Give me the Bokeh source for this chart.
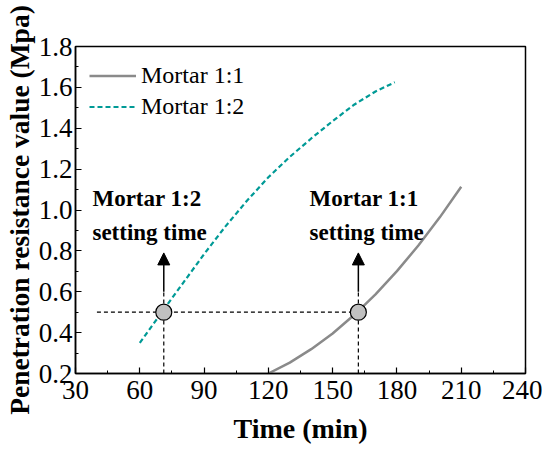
from bokeh.plotting import figure
from bokeh.models import Range1d, FixedTicker, NumeralTickFormatter, Arrow, NormalHead
from bokeh.core.properties import value
from bokeh.embed import file_html
from bokeh.resources import INLINE

# Data
time_11 = [120, 130, 140, 150, 160, 170, 180, 190, 200, 210]
res_11 = [0.200, 0.253, 0.319, 0.396, 0.486, 0.587, 0.701, 0.826, 0.964, 1.114]
time_12 = [60, 70, 80, 90, 100, 110, 120, 130, 140, 150, 160, 170, 179]
res_12 = [0.35, 0.496, 0.64, 0.784, 0.92, 1.045, 1.16, 1.26, 1.35, 1.435, 1.515, 1.58, 1.625]
setting_times = [71.2, 162.0]
setting_value = 0.5
x_ticks = [30, 60, 90, 120, 150, 180, 210, 240]
y_ticks = [0.2, 0.4, 0.6, 0.8, 1.0, 1.2, 1.4, 1.6, 1.8]

FONT = "Liberation Serif"

p = figure(width=542, height=447, output_backend="svg", toolbar_location=None,
           x_range=Range1d(30, 240), y_range=Range1d(0.2, 1.8),
           min_border_left=73, min_border_right=17, min_border_top=46, min_border_bottom=74)
p.grid.visible = False
p.outline_line_color = "black"
p.outline_line_width = 1.5
p.background_fill_color = "white"
p.border_fill_color = "white"

p.xaxis.ticker = FixedTicker(ticks=x_ticks, minor_ticks=[45, 75, 105, 135, 165, 195, 225])
p.yaxis.ticker = FixedTicker(ticks=y_ticks, minor_ticks=[0.3, 0.5, 0.7, 0.9, 1.1, 1.3, 1.5, 1.7])
p.yaxis.formatter = NumeralTickFormatter(format="0.0")
p.xaxis.axis_label = "Time (min)"
p.yaxis.axis_label = "Penetration resistance value (Mpa)"
for ax in (p.xaxis, p.yaxis):
    ax.axis_line_width = 1.5
    ax.axis_line_color = "black"
    ax.major_tick_in = 6
    ax.major_tick_out = 0
    ax.minor_tick_in = 3
    ax.minor_tick_out = 0
    ax.major_tick_line_color = "black"
    ax.minor_tick_line_color = "black"
    ax.major_tick_line_width = 1.2
    ax.major_label_text_font = FONT
    ax.major_label_text_color = "black"
    ax.axis_label_text_font = FONT
    ax.axis_label_text_font_style = "bold"
    ax.axis_label_text_color = "black"
p.xaxis.major_label_text_font_size = "27px"
p.yaxis.major_label_text_font_size = "27px"
p.xaxis.axis_label_text_font_size = "28px"
p.yaxis.axis_label_text_font_size = "27.5px"
p.xaxis.major_label_standoff = 7
p.yaxis.major_label_standoff = 3
p.xaxis.axis_label_standoff = 11
p.yaxis.axis_label_standoff = 1

# Curves
p.line(time_11, res_11, line_color="#8a8a8a", line_width=2.5, legend_label="Mortar 1:1")
p.line(time_12, res_12, line_color="#009a96", line_width=2.2, line_dash="5 3", legend_label="Mortar 1:2")

# Guide lines
p.segment(x0=[40], y0=[setting_value], x1=[setting_times[1]], y1=[setting_value],
          line_color="black", line_width=1.2, line_dash="4 3")
p.segment(x0=setting_times, y0=[0.2, 0.2], x1=setting_times, y1=[0.6, 0.6],
          line_color="black", line_width=1.2, line_dash="4 3")

# Arrows
for t in setting_times:
    p.add_layout(Arrow(end=NormalHead(size=12, fill_color="black", line_color="black", line_width=1),
                       x_start=t, y_start=0.6, x_end=t, y_end=0.79,
                       line_color="black", line_width=1.5))

# Setting points
p.scatter(setting_times, [setting_value, setting_value], size=16, fill_color="#c0c0c0",
          line_color="black", line_width=1.2)

# Annotations
p.text(x=[37.9, 139.2], y=[1.055, 1.055], text=["Mortar 1:2", "Mortar 1:1"],
       text_font=value(FONT), text_font_style="bold", text_font_size="23px",
       text_color="black", text_baseline="alphabetic", text_align="left")
p.text(x=[37.9, 139.2], y=[0.891, 0.891], text=["setting time", "setting time"],
       text_font=value(FONT), text_font_style="bold", text_font_size="23px",
       text_color="black", text_baseline="alphabetic", text_align="left")

# Legend
lg = p.legend[0]
lg.location = "top_left"
lg.border_line_color = None
lg.background_fill_alpha = 0
lg.label_text_font = FONT
lg.label_text_font_size = "24px"
lg.label_text_color = "black"
lg.glyph_width = 47
lg.glyph_height = 31
lg.label_height = 31
lg.label_standoff = 5
lg.spacing = 0
lg.margin = 14
lg.padding = 8

open("out.html", "w").write(file_html(p, INLINE))
